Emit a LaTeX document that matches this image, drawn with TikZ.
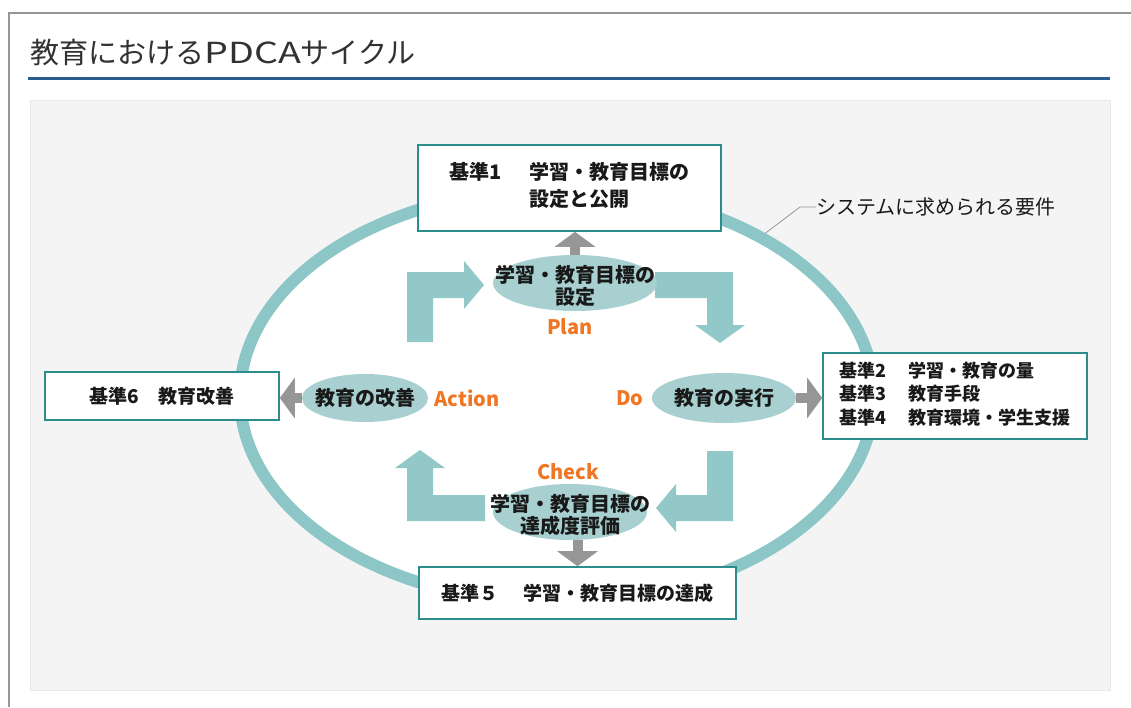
\documentclass[tikz,border=0pt]{standalone}
\usepackage{graphicx}
\usepackage{fontspec}
\setmainfont{Noto Sans CJK JP}
\usetikzlibrary{shapes.geometric,arrows.meta}
\definecolor{ringc}{RGB}{140,198,198}
\definecolor{bentc}{RGB}{146,200,200}
\definecolor{pillc}{RGB}{168,208,208}
\definecolor{boxc}{RGB}{45,140,140}
\definecolor{grayar}{RGB}{150,150,150}
\definecolor{orangec}{RGB}{240,118,36}
\definecolor{titlec}{RGB}{50,50,50}
\definecolor{bluec}{RGB}{42,92,140}
\definecolor{panelc}{RGB}{244,244,244}
\definecolor{panelb}{RGB}{232,232,232}
\definecolor{framec}{RGB}{150,150,150}
\definecolor{textc}{RGB}{25,25,25}
\begin{document}
\begin{tikzpicture}[x=1pt,y=-1pt,
  stdbox/.style={draw=boxc, line width=1.6pt, fill=white, inner sep=0pt, font=\fontsize{19}{27}\selectfont\bfseries, text=textc},
  pill/.style={ellipse, fill=pillc, inner sep=0pt},
  pilltext/.style={font=\fontsize{20}{22}\selectfont\bfseries, text=textc, align=center, inner sep=0pt},
  phase/.style={font=\fontsize{20}{22}\selectfont\bfseries, text=orangec, inner sep=0pt},
  grayarrow/.style={draw=grayar, line width=10pt, -{Triangle[width=40pt,length=15pt]}},
  bent/.style={fill=bentc},
  leader/.style={draw=grayar, line width=0.8pt},
]
\useasboundingbox (0,0) rectangle (1131,707);
\fill[white] (0,0) rectangle (1131,707);
\draw[framec, line width=1.5pt] (9,707) -- (9,13) -- (1131,13);
\node[anchor=west, text=titlec, font=\fontsize{29}{31}\selectfont, inner sep=0pt] (title) at (30,53) {教育における\scalebox{1.3}[1]{PDCA}サイクル};
\draw[bluec, line width=3pt] (28,78) -- (1110,78);
\draw[panelb, fill=panelc] (30,100) rectangle (1110,690);

% big ring
\node[ellipse, draw=ringc, line width=12pt, fill=white, minimum width=634pt, minimum height=414pt, inner sep=0pt] (ring) at (557,396) {};

% bent block arrows
\fill[bent] (407,342) -- (407,272) -- (464,272) -- (464,261) -- (484,285) -- (464,309) -- (464,298) -- (433,298) -- (433,342) -- cycle;
\fill[bent] (655,272) -- (733,272) -- (733,325) -- (745,325) -- (720,343) -- (695,325) -- (707,325) -- (707,298) -- (655,298) -- cycle;
\fill[bent] (733,451) -- (733,521) -- (676,521) -- (676,532) -- (656,508) -- (676,484) -- (676,495) -- (707,495) -- (707,451) -- cycle;
\fill[bent] (485,521) -- (407,521) -- (407,468) -- (395,468) -- (420,450) -- (445,468) -- (433,468) -- (433,495) -- (485,495) -- cycle;

% boxes
\node[stdbox, font=\fontsize{20}{27}\selectfont\bfseries, minimum width=303pt, minimum height=86pt] (b1) at (569.5,188)
  {\begin{tabular}{@{}l@{\hspace{28pt}}l@{}}基準1 & 学習・教育目標の\\ & 設定と公開\end{tabular}};
\node[stdbox, font=\fontsize{18}{23.5}\selectfont\bfseries, minimum width=264pt, minimum height=86pt] (b2) at (955,396)
  {\begin{tabular}{@{}l@{\hspace{22pt}}l@{}}基準2 & 学習・教育の量\\基準3 & 教育手段\\基準4 & 教育環境・学生支援\end{tabular}};
\node[stdbox, minimum width=317pt, minimum height=52pt] (b5) at (577.5,593) {基準５\hspace{25pt}学習・教育目標の達成};
\node[stdbox, minimum width=234pt, minimum height=48pt] (b6) at (162,396) {基準6\hspace{20pt}教育改善};

% ellipses
\node[pill, minimum width=164pt, minimum height=56pt, label={[pilltext, yshift=-3pt]center:学習・教育目標の\\設定}] (plan) at (575,283) {};
\node[pill, minimum width=144pt, minimum height=50pt, label={[pilltext]center:教育の実行}] (do) at (724,398) {};
\node[pill, minimum width=126pt, minimum height=48pt, label={[pilltext]center:教育の改善}] (action) at (365,398) {};
\node[pill, minimum width=154pt, minimum height=56pt, label={[pilltext, yshift=-3pt]center:学習・教育目標の\\達成度評価}] (check) at (570,512) {};

% phase labels
\node[phase] (planl) at (570,327) {Plan};
\node[phase] (dol) at (630,398) {Do};
\node[phase] (actionl) at (467,398) {Action};
\node[phase] (checkl) at (568,472) {Check};

% gray arrows
\draw[grayarrow] (plan.north) -- (plan.north |- b1.south);
\draw[grayarrow] (do.east) -- (do.east -| b2.west);
\draw[grayarrow] (action.west) -- (action.west -| b6.east);
\draw[grayarrow] (check.south -| b5.north) -- (b5.north);

% requirement label
\coordinate (bend) at (800,207);
\node[anchor=west, inner sep=0pt, font=\fontsize{20}{22}\selectfont, text=textc] (req) at (816,207) {システムに求められる要件};
\draw[leader] (ring.38) -- (bend) -- (req.west);
\end{tikzpicture}
\end{document}
